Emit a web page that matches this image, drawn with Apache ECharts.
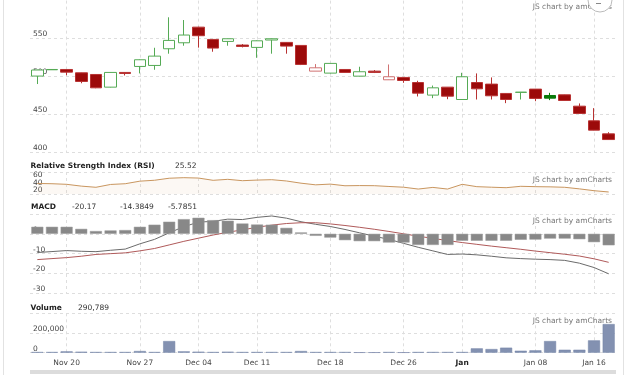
<!DOCTYPE html>
<html><head><meta charset="utf-8">
<script src="https://cdn.jsdelivr.net/npm/echarts@6/dist/echarts.min.js"></script>
<style>html,body{margin:0;padding:0;background:#fff}#c{width:627px;height:375px}</style>
</head><body><div id="c"></div>
<script>
const dates = ['Nov 16','Nov 17','Nov 20','Nov 21','Nov 22','Nov 23','Nov 24','Nov 27','Nov 28','Nov 29',
  'Dec 01','Dec 04','Dec 05','Dec 06','Dec 08','Dec 11','Dec 12','Dec 13','Dec 14','Dec 15',
  'Dec 18','Dec 19','Dec 20','Dec 21','Dec 22','Dec 26','Dec 27','Dec 28','Dec 29','Jan 01',
  'Jan 02','Jan 03','Jan 04','Jan 05','Jan 08','Jan 09','Jan 10','Jan 12','Jan 16','Jan 17'];
const tickDates = ['Nov 20','Nov 27','Dec 04','Dec 11','Dec 18','Dec 26','Jan 01','Jan 08','Jan 16'];
const tickTexts = ['Nov 20','Nov 27','Dec 04','Dec 11','Dec 18','Dec 26','Jan','Jan 08','Jan 16'];
const rsiTicksA = [20, 60];
const rsiTicksB = [40];
const openP  = [500.5,508.8,509.2,504.8,502.6,485.9,505.3,513.2,514.5,536.5,544.4,565.0,548.8,546.2,541.4,538.3,548.0,544.9,540.9,507.0,504.4,509.2,500.4,507.0,495.6,498.7,492.0,475.4,485.9,469.6,492.0,489.9,477.6,479.0,483.3,474.9,475.8,460.8,441.5,424.3];
const closeP = [508.5,509.2,505.7,493.4,485.0,505.3,503.9,522.0,526.8,547.5,554.6,553.7,537.4,549.7,539.6,547.0,549.7,540.0,515.8,511.4,517.2,505.3,506.2,505.3,499.6,494.7,478.0,485.0,474.0,499.6,483.7,474.5,469.6,479.3,471.0,471.4,468.3,451.2,429.2,416.8];
const highP  = [509,509.5,509.5,505,503,505.5,505.5,522.5,537.8,578,574.4,565.5,549,550,542.7,547.5,550,545.3,541,516.3,517.5,509.5,512.8,508.4,515.8,499,494.3,488,486,504.8,504,498.7,478,479.5,483.5,478.4,476,464.4,458.2,426.5];
const lowP   = [490,508.8,501.5,491,484.5,485.5,501.3,504,508.8,530,540.5,538,532.6,540.5,538.3,524.6,530,530,515,507,504,505,500,504.5,495.4,491.6,473.6,471.4,470,469.5,469.6,469.6,464.8,469.6,467.4,468.8,468,451,429,416.5];
const rsi = [48.8,48,46.4,41.5,38.3,46,48,55,57.5,63,64.5,63.5,57.3,60,56.3,58,59,55.5,49.5,45,47,42.5,43,42.7,40.5,38.5,33.5,38,33.5,46.4,40,38.5,37.2,41,40,39.5,38.3,34,29,25.52];
const macd = [-9.45,-8.95,-8.45,-8.8,-9.0,-8.3,-7.7,-5.05,-2.8,0.5,3.6,5.9,6.3,7.4,7.2,8.3,9.0,7.9,6.1,
  4.8,3.7,2.2,0.5,-1.2,-2.8,-4.8,-6.8,-8.6,-10.4,-10.2,-10.6,-11.3,-12.1,-12.5,-12.8,-13.0,-13.4,-14.8,-17.0,-20.17];
const signal = [-13.0,-12.5,-12.0,-11.3,-10.4,-10.0,-9.6,-8.6,-7.4,-5.6,-3.8,-2.2,-0.6,0.8,2.0,3.3,4.4,5.2,5.6,
  5.6,5.0,4.2,3.3,2.3,1.2,0.0,-1.2,-2.3,-3.4,-4.4,-5.3,-6.2,-7.0,-7.8,-8.7,-9.5,-10.3,-11.2,-12.6,-14.3849];
const hist = [3.55,3.55,3.55,2.5,1.4,1.7,1.9,3.55,4.6,6.1,7.4,8.1,6.9,6.6,5.2,4.7,4.6,3.0,0.7,-1.0,
  -1.9,-3.2,-3.7,-3.7,-4.4,-4.4,-5.6,-5.6,-5.6,-3.5,-3.5,-3.5,-3.5,-3.0,-2.9,-2.4,-2.4,-2.7,-4.2,-5.7851];
const volume = [6800,6800,13500,10000,6800,6800,6800,17000,6800,118000,13500,10000,6800,10000,6800,6800,6800,6800,17000,6800,
  6800,6800,3400,3400,6800,3400,6800,6800,6800,6800,44000,37000,51000,20000,24000,118000,30000,30000,125000,290789];

const FONT = '"DejaVu Sans", Verdana, sans-serif';
const FS = 7.5;
const GRID_C = '#dedede';
const NONE = 'rgba(0,0,0,0)';
const GREEN = '#55aa55', RED = '#9c0a0a', RED_B = '#b83232', LRED = '#d07272', DGREEN = '#0a7a0a';

const candleData = openP.map((o, i) => {
  const c = closeP[i];
  const prev = i > 0 ? closeP[i - 1] : o;
  const up = c >= prev;
  let st;
  if (c >= o) st = { color: '#fff', borderColor: up ? GREEN : LRED };
  else st = { color0: up ? DGREEN : RED, borderColor0: up ? DGREEN : RED_B };
  return { value: [o, c, lowP[i], highP[i]], itemStyle: st };
});

const tickSet = new Set(tickDates);
const grids = [
  { left: 30, right: 11, top: 0.6, height: 151.7 },
  { left: 30, right: 11, top: 172, height: 22 },
  { left: 30, right: 11, top: 214, height: 79.3 },
  { left: 30, right: 11, top: 313.3, height: 39.4 }
];
const xAxes = grids.map((g, gi) => ({
  type: 'category', gridIndex: gi, data: dates, boundaryGap: true,
  axisLine: { show: false }, axisTick: { show: false },
  axisLabel: {
    show: gi === 3, interval: (i, v) => tickSet.has(v), margin: 6,
    fontFamily: FONT, fontSize: FS, color: '#444',
    formatter: v => { const t = tickTexts[tickDates.indexOf(v)]; return t === 'Jan' ? '{b|Jan}' : t; },
    rich: { b: { fontFamily: FONT, fontSize: FS, fontWeight: 'bold', color: '#222' } }
  },
  splitLine: { show: true, interval: (i, v) => tickSet.has(v), alignWithLabel: true,
    lineStyle: { type: [3, 3], color: GRID_C, width: 1 } }
}));
function yAx(gi, min, max, interval, lineColors, fmt) {
  return {
    type: 'value', gridIndex: gi, min, max, interval, position: 'left', offset: 0,
    axisLine: { show: false }, axisTick: { show: false },
    axisLabel: { inside: true, margin: 3, verticalAlign: 'bottom', showMaxLabel: false, showMinLabel: true,
      hideOverlap: false, fontFamily: FONT, fontSize: FS, color: '#444', formatter: fmt },
    splitLine: { show: lineColors !== null, lineStyle: { type: [3, 3], color: lineColors || GRID_C, width: 1 } }
  };
}
const yAxes = [
  yAx(0, 400, 600, 50, [GRID_C, GRID_C, GRID_C, GRID_C, NONE]),
  yAx(1, 20, 80, 20, [GRID_C, NONE, NONE, GRID_C], v => rsiTicksA.includes(v) ? String(v) : ''),
  yAx(2, -30, 10, 10, GRID_C),
  yAx(3, 0, 400000, 200000, GRID_C, v => v.toLocaleString('en-US')),
  yAx(1, 20, 80, 20, null, v => rsiTicksB.includes(v) ? String(v) : '')
];

function txt(text, x, y, bold, color, align) {
  return { type: 'text', silent: true, z: 100,
    style: { text, x, y, fill: color || '#222', align: align || 'left', verticalAlign: 'middle',
      font: (bold ? 'bold ' : '') + FS + 'px ' + FONT } };
}
const WM = 'JS chart by amCharts';
const graphics = [
  { type: 'line', shape: { x1: 3.5, y1: 0, x2: 3.5, y2: 375 }, style: { stroke: '#e2e2e2', lineWidth: 1 }, silent: true },
  { type: 'line', shape: { x1: 623.5, y1: 0, x2: 623.5, y2: 375 }, style: { stroke: '#e2e2e2', lineWidth: 1 }, silent: true },
  { type: 'rect', shape: { x: 30, y: 370, width: 586, height: 4 }, style: { fill: '#dcdcdc' }, silent: true },
  txt(WM, 612, 7.5, false, '#777', 'right'),
  { type: 'circle', shape: { cx: 600, cy: 0, r: 12 }, style: { fill: '#fff', stroke: '#bbb', lineWidth: 1 }, silent: true, z: 101 },
  { type: 'line', shape: { x1: 596, y1: 3.5, x2: 601, y2: 3.5 }, style: { stroke: '#888', lineWidth: 1 }, silent: true, z: 102 },
  txt('Relative Strength Index (RSI)', 30.5, 166.3, true, '#222'),
  txt(rsi[rsi.length - 1].toFixed(2), 175, 166.3, false, '#333'),
  txt(WM, 612, 180.5, false, '#777', 'right'),
  txt('MACD', 31, 207.3, true, '#222'),
  txt(String(macd[macd.length - 1]), 72, 207.3, false, '#333'),
  txt(String(signal[signal.length - 1]), 120, 207.3, false, '#333'),
  txt(String(hist[hist.length - 1]), 168, 207.3, false, '#333'),
  txt(WM, 612, 220.7, false, '#777', 'right'),
  txt('Volume', 30.5, 307.7, true, '#222'),
  txt(volume[volume.length - 1].toLocaleString('en-US'), 78, 307.7, false, '#333'),
  txt(WM, 612, 321, false, '#777', 'right')
];

const chart = echarts.init(document.getElementById('c'), null, { renderer: 'canvas' });
chart.setOption({
  animation: false,
  backgroundColor: '#fff',
  grid: grids,
  xAxis: xAxes,
  yAxis: yAxes,
  graphic: graphics,
  series: [
    { type: 'candlestick', xAxisIndex: 0, yAxisIndex: 0, data: candleData, barWidth: 12,
      itemStyle: { color: '#fff', color0: RED, borderColor: GREEN, borderColor0: RED_B, borderWidth: 1 } },
    { type: 'line', xAxisIndex: 1, yAxisIndex: 1, data: rsi, symbol: 'none',
      lineStyle: { color: '#c9965f', width: 1 }, areaStyle: { color: 'rgba(235,200,165,0.18)', origin: 'start' } },
    { type: 'line', xAxisIndex: 2, yAxisIndex: 2, data: macd, symbol: 'none', z: 1,
      lineStyle: { color: '#6b6b6b', width: 1 } },
    { type: 'line', xAxisIndex: 2, yAxisIndex: 2, data: signal, symbol: 'none', z: 1,
      lineStyle: { color: '#b05a5a', width: 1 } },
    { type: 'bar', xAxisIndex: 2, yAxisIndex: 2, data: hist, barWidth: 12, z: 3,
      itemStyle: { color: '#888888', borderColor: '#9a9a9a', borderWidth: 0.5 } },
    { type: 'bar', xAxisIndex: 3, yAxisIndex: 3, data: volume, barWidth: 12,
      itemStyle: { color: '#8391b1', borderColor: '#7383a6', borderWidth: 0.5 } }
  ]
});
</script></body></html>
